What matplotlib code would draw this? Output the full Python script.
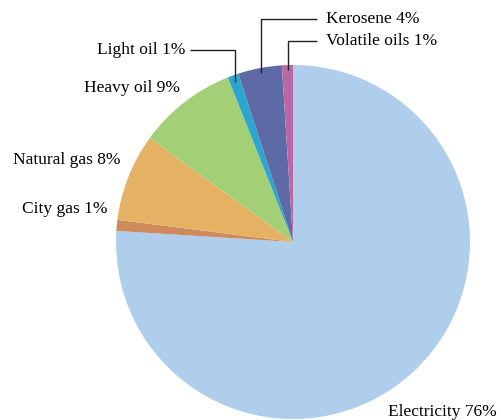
import numpy as np
import matplotlib
matplotlib.use("Agg")
import matplotlib.pyplot as plt

# Energy consumption shares by source (%)
categories = ["Electricity", "City gas", "Natural gas", "Heavy oil",
              "Light oil", "Kerosene", "Volatile oils"]
shares = [76, 1, 8, 9, 1, 4, 1]
colors = ["#AECEEB", "#CF8A5C", "#E5B263", "#A3D077",
          "#2CA5D0", "#5E6AA6", "#B868A2"]

plt.rcParams["font.family"] = ["Liberation Serif", "DejaVu Serif"]
FS = 12.5

W, H = 502, 420
fig = plt.figure(figsize=(W / 100, H / 100), dpi=100)
ax = fig.add_axes([0, 0, 1, 1])
ax.set_xlim(0, W)
ax.set_ylim(0, H)
ax.axis("off")

cx, cy, R = 293, 178, 177
wedges, _ = ax.pie(shares, colors=colors, startangle=90, counterclock=False,
                   center=(cx, cy), radius=R, frame=True,
                   wedgeprops=dict(linewidth=0))
ax.set_xlim(0, W)
ax.set_ylim(0, H)
ax.axis("off")

labels = [f"{c} {v}%" for c, v in zip(categories, shares)]


def mid_point(w, frac):
    ang = np.deg2rad((w.theta1 + w.theta2) / 2)
    return cx + frac * R * np.cos(ang), cy + frac * R * np.sin(ang)


# Labels placed directly beside their wedges
ax.text(497, H - 412, labels[0], ha="right", va="center", fontsize=FS)
ax.text(108, H - 209, labels[1], ha="right", va="center", fontsize=FS)
ax.text(121, H - 160, labels[2], ha="right", va="center", fontsize=FS)
ax.text(180, H - 88, labels[3], ha="right", va="center", fontsize=FS)

# Labels with elbow leader lines for the thin top wedges
lc = "#222222"
# Light oil: leader goes up then left
x0, y0 = mid_point(wedges[4], 0.96)
yl = H - 50
ax.plot([x0, x0, 190], [y0, yl, yl], color=lc, lw=1.0, solid_capstyle="butt")
ax.text(185, yl, labels[4], ha="right", va="center", fontsize=FS)

# Kerosene and volatile oils: leaders go up then right
for idx, ytxt in ((5, 19), (6, 41)):
    x0, y0 = mid_point(wedges[idx], 0.97)
    yl = H - ytxt
    ax.plot([x0, x0, 317], [y0, yl, yl], color=lc, lw=1.0, solid_capstyle="butt")
    ax.text(326, yl, labels[idx], ha="left", va="center", fontsize=FS)

fig.savefig("out.png", dpi=100, facecolor="white")
